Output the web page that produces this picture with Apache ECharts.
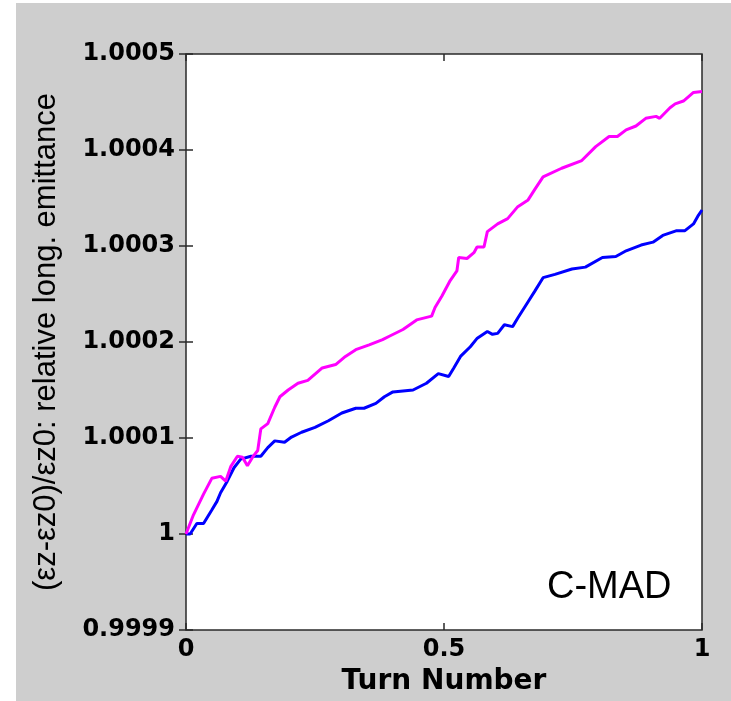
<!DOCTYPE html>
<html>
<head>
<meta charset="utf-8">
<script src="https://cdn.jsdelivr.net/npm/echarts@6/dist/echarts.min.js"></script>
<style>
html,body{margin:0;padding:0;background:#ffffff;}
#chart{position:absolute;left:16px;top:3px;width:715px;height:698px;}
</style>
</head>
<body>
<div id="chart"></div>
<script>
// Turn number (normalised) and rise of relative emittance, in units of 1e-4
const magentaX = [0, 0.002, 0.0145, 0.034, 0.050, 0.067, 0.077, 0.087, 0.0996, 0.1095, 0.119, 0.129, 0.139, 0.145, 0.1585, 0.172, 0.182, 0.198, 0.217, 0.236, 0.264, 0.290, 0.309, 0.329, 0.355, 0.381, 0.394, 0.4205, 0.447, 0.476, 0.4826, 0.496, 0.512, 0.525, 0.5285, 0.5446, 0.558, 0.564, 0.5775, 0.584, 0.604, 0.6234, 0.643, 0.663, 0.676, 0.692, 0.728, 0.767, 0.794, 0.820, 0.836, 0.853, 0.872, 0.891, 0.911, 0.918, 0.938, 0.948, 0.964, 0.9835, 1.0];
const magentaRise = [0, 0.01, 0.20, 0.415, 0.58, 0.60, 0.55, 0.705, 0.81, 0.80, 0.71, 0.80, 0.87, 1.095, 1.15, 1.32, 1.43, 1.50, 1.57, 1.60, 1.73, 1.765, 1.85, 1.92, 1.97, 2.025, 2.06, 2.13, 2.23, 2.27, 2.36, 2.48, 2.64, 2.74, 2.88, 2.87, 2.93, 2.99, 2.99, 3.15, 3.23, 3.285, 3.41, 3.48, 3.59, 3.72, 3.81, 3.89, 4.035, 4.14, 4.14, 4.21, 4.25, 4.33, 4.35, 4.33, 4.44, 4.48, 4.51, 4.60, 4.61];
const blueX = [0, 0.008, 0.021, 0.034, 0.050, 0.060, 0.067, 0.080, 0.093, 0.106, 0.126, 0.145, 0.1585, 0.172, 0.191, 0.2045, 0.224, 0.250, 0.276, 0.302, 0.329, 0.345, 0.368, 0.3845, 0.401, 0.440, 0.466, 0.489, 0.509, 0.519, 0.532, 0.551, 0.5645, 0.584, 0.594, 0.604, 0.617, 0.633, 0.643, 0.663, 0.676, 0.692, 0.715, 0.748, 0.774, 0.807, 0.833, 0.853, 0.882, 0.905, 0.924, 0.951, 0.967, 0.9835, 0.993, 1.0];
const blueRise = [0, 0.0, 0.11, 0.11, 0.25, 0.34, 0.43, 0.55, 0.69, 0.78, 0.81, 0.81, 0.90, 0.97, 0.955, 1.01, 1.06, 1.11, 1.18, 1.26, 1.31, 1.31, 1.36, 1.43, 1.48, 1.50, 1.57, 1.67, 1.64, 1.73, 1.85, 1.95, 2.04, 2.11, 2.08, 2.09, 2.18, 2.16, 2.25, 2.42, 2.53, 2.67, 2.705, 2.76, 2.78, 2.88, 2.89, 2.95, 3.01, 3.04, 3.11, 3.16, 3.16, 3.23, 3.32, 3.375];
const yTicks = [0.9999, 1, 1.0001, 1.0002, 1.0003, 1.0004, 1.0005];
const xTicks = [0, 0.5, 1];

const toPairs = (xs, rs) => xs.map((x, i) => [x, 1 + rs[i] * 1e-4]);

const chart = echarts.init(document.getElementById('chart'), null, {renderer: 'canvas'});
const tickFont = {fontFamily: 'DejaVu Sans', fontWeight: 'bold', fontSize: 24, color: '#000'};
const fmtY = v => parseFloat(v.toFixed(4)).toString();
const fmtX = v => parseFloat(v.toFixed(2)).toString();

chart.setOption({
  backgroundColor: '#cecece',
  animation: false,
  grid: {left: 170, top: 51, right: 29, bottom: 69, show: true, backgroundColor: '#ffffff', borderColor: '#2a2a2a', borderWidth: 1.5},
  xAxis: [{
    type: 'value', min: xTicks[0], max: xTicks[xTicks.length - 1], interval: 0.5,
    name: 'Turn Number', nameLocation: 'middle', nameGap: 38,
    nameTextStyle: {fontFamily: 'DejaVu Sans', fontWeight: 'bold', fontSize: 28, color: '#000'},
    axisLine: {show: false},
    axisTick: {show: true, inside: true, length: 7, lineStyle: {color: '#2a2a2a', width: 1.5}},
    axisLabel: Object.assign({margin: 8, formatter: fmtX}, tickFont),
    splitLine: {show: false}
  }, {
    type: 'value', position: 'top', min: xTicks[0], max: xTicks[xTicks.length - 1], interval: 0.5,
    axisLine: {show: false},
    axisTick: {show: true, inside: true, length: 7, lineStyle: {color: '#2a2a2a', width: 1.5}},
    axisLabel: {show: false}, splitLine: {show: false}
  }],
  yAxis: [{
    type: 'value', min: yTicks[0], max: yTicks[yTicks.length - 1], interval: 0.0001,
    name: '(εz-εz0)/εz0: relative long. emittance', nameLocation: 'middle', nameGap: 124, nameRotate: 90,
    nameTextStyle: {fontFamily: 'Liberation Sans', fontSize: 31, color: '#000'},
    axisLine: {show: false},
    axisTick: {show: true, inside: true, length: 7, lineStyle: {color: '#2a2a2a', width: 1.5}},
    axisLabel: Object.assign({margin: 11, formatter: fmtY}, tickFont),
    splitLine: {show: false}
  }, {
    type: 'value', position: 'right', min: yTicks[0], max: yTicks[yTicks.length - 1], interval: 0.0001,
    axisLine: {show: false},
    axisTick: {show: true, inside: true, length: 7, lineStyle: {color: '#2a2a2a', width: 1.5}},
    axisLabel: {show: false}, splitLine: {show: false}
  }],
  series: [{
    type: 'line', name: 'blue', data: toPairs(blueX, blueRise), showSymbol: false, symbol: 'none',
    lineStyle: {color: '#0000ff', width: 3}, z: 2
  }, {
    type: 'line', name: 'magenta', data: toPairs(magentaX, magentaRise), showSymbol: false, symbol: 'none',
    lineStyle: {color: '#ff00ff', width: 3}, z: 3
  }],
  graphic: [{
    type: 'text', left: 531, top: 566,
    style: {text: 'C-MAD', font: '38px "Liberation Sans"', fill: '#000'}
  }]
});
</script>
</body>
</html>
